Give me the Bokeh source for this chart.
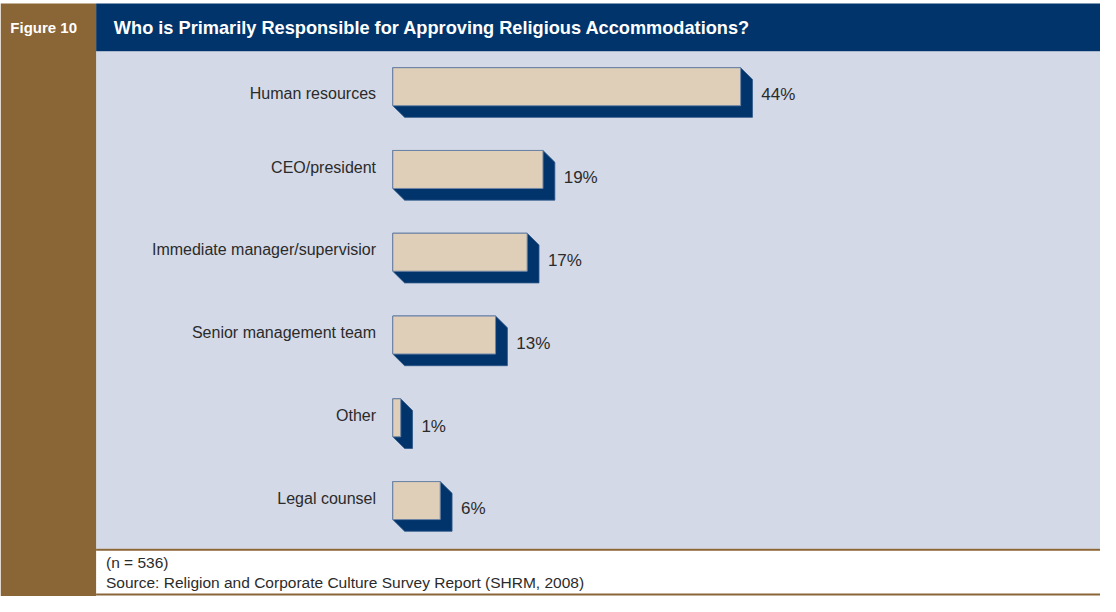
from bokeh.plotting import figure
from bokeh.models import Range1d, ColumnDataSource
from bokeh.core.properties import value
from bokeh.embed import file_html
from bokeh.resources import INLINE

# ---- data ----
categories = ["Human resources", "CEO/president", "Immediate manager/supervisior",
              "Senior management team", "Other", "Legal counsel"]
values = [44, 19, 17, 13, 1, 6]
title = "Who is Primarily Responsible for Approving Religious Accommodations?"
figure_label = "Figure 10"
note = "(n = 536)"
source_text = "Source: Religion and Corporate Culture Survey Report (SHRM, 2008)"

# ---- layout (reference design is 1116x612, fitted into the canvas) ----
W, H = 1100, 596
SX, SY = W / 1116, H / 612
ZERO_REF = 398.0          # x of 0 %
PCT_REF = 8.02            # px per percent
ROW_REF = 85.0            # px per category row
FIRST_REF = 88.5          # centre of first bar
BAR_REF = 39.0
DEPTH_REF = 12.0
FONT = value("Liberation Sans")

NAVY = "#00346B"
BROWN = "#8A6535"
PANEL = "#D3D9E6"
FACE = "#DFCEB8"
TEXT = "#2b2b2b"


def xd(rx):
    return (rx - ZERO_REF) / PCT_REF


def yd(ry):
    return (ry - FIRST_REF) / ROW_REF


p = figure(width=W, height=H, output_backend="svg", toolbar_location=None,
           x_range=Range1d(xd(0), xd(1116)), y_range=Range1d(yd(612), yd(0)),
           x_axis_location=None, y_axis_location=None, min_border=0)
p.grid.visible = False
p.outline_line_color = None
p.background_fill_color = "white"
p.border_fill_color = "white"

# ---- decorations ----
p.quad(left=[xd(97)], right=[xd(1116)], top=[yd(52)], bottom=[yd(563)],
       fill_color=PANEL, line_color=None)
p.quad(left=[xd(97)], right=[xd(1116)], top=[yd(563)], bottom=[yd(565)],
       fill_color=BROWN, line_color=None)
p.quad(left=[xd(97)], right=[xd(1116)], top=[yd(609)], bottom=[yd(611)],
       fill_color=BROWN, line_color=None)
p.quad(left=[xd(97)], right=[xd(1116)], top=[yd(3)], bottom=[yd(52)],
       fill_color=NAVY, line_color=None)
p.quad(left=[xd(0)], right=[xd(97)], top=[yd(3)], bottom=[yd(612)],
       fill_color=BROWN, line_color=None)

p.text(x=[xd(10)], y=[yd(28)], text=[figure_label], text_font=FONT,
       text_font_size="15px", text_font_style="bold", text_color="white",
       text_baseline="middle")
p.text(x=[xd(115)], y=[yd(28)], text=[title], text_font=FONT,
       text_font_size="18.2px", text_font_style="bold", text_color="white",
       text_baseline="middle")
p.text(x=[xd(107)], y=[yd(577)], text=[note], text_font=FONT,
       text_font_size="15.5px", text_color=TEXT, text_baseline="middle")
p.text(x=[xd(107)], y=[yd(598)], text=[source_text], text_font=FONT,
       text_font_size="15.5px", text_color=TEXT, text_baseline="middle")

# ---- bars ----
idx = list(range(len(categories)))
h = BAR_REF / ROW_REF
dx = DEPTH_REF / PCT_REF
dy = DEPTH_REF / ROW_REF

xs, ys = [], []
for i, v in zip(idx, values):
    yt, yb = i - h / 2, i + h / 2
    xs.append([0, v, v + dx, v + dx, dx, 0])
    ys.append([yt, yt, yt + dy, yb + dy, yb + dy, yb])
p.patches(xs=xs, ys=ys, fill_color=NAVY, line_color="#2c5688", line_width=0.8)

src = ColumnDataSource(dict(
    y=idx, v=values, cat=categories,
    lab=[f"{v}%" for v in values],
    lx=[v + dx + 9 / PCT_REF for v in values],
    ly=[i + 8.5 / ROW_REF for i in idx],
))
p.hbar(y="y", left=0, right="v", height=h, source=src,
       fill_color=FACE, line_color="#6d84a6", line_width=1)
p.text(x="lx", y="ly", text="lab", source=src, text_font=FONT,
       text_font_size="17px", text_color=TEXT, text_baseline="middle")

label_nudge_ref = [7.5, -2.5, -2.5, -2.5, -2.5, -2.5]
p.text(x=[xd(381)] * len(idx), y=[i + n / ROW_REF for i, n in zip(idx, label_nudge_ref)],
       text=categories, text_font=FONT, text_font_size="16px", text_color=TEXT,
       text_baseline="middle", text_align="right")

open("out.html", "w").write(file_html(p, INLINE))
